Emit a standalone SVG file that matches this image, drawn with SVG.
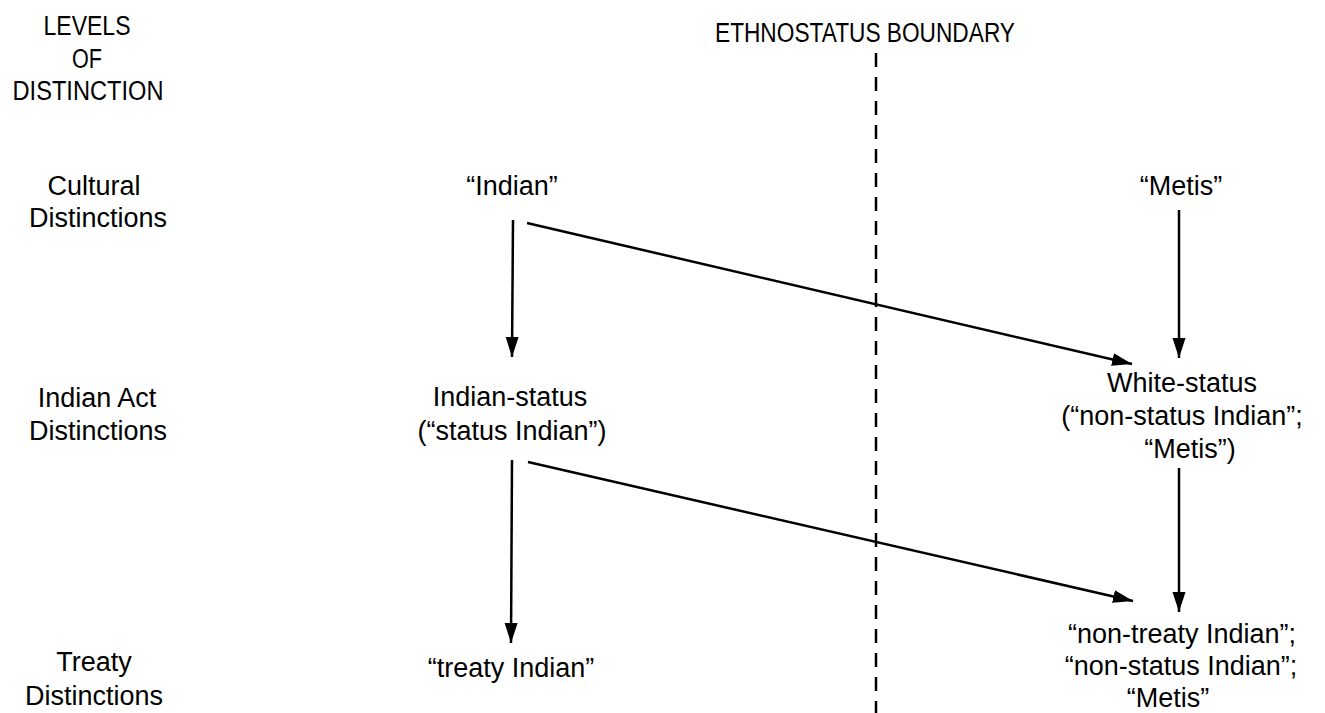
<svg xmlns="http://www.w3.org/2000/svg" width="1325" height="713" viewBox="0 0 1325 713">
<style>
text{font-family:"Liberation Sans",Arial,sans-serif;fill:#000;text-anchor:middle;font-size:27px}
.conn{stroke:#000;stroke-width:2.5;fill:none}
.bound{stroke:#000;stroke-width:2.5;stroke-dasharray:14 10;fill:none}
</style>
<defs>
<marker id="ah" markerUnits="userSpaceOnUse" markerWidth="22" markerHeight="14" refX="20" refY="6.5" orient="auto">
<path d="M0,0 L20,6.5 L0,13 Z" fill="#000"/>
</marker>
</defs>
<rect width="1325" height="713" fill="#fff"/>
<g id="levels-header">
<text x="87" y="35" textLength="87" lengthAdjust="spacingAndGlyphs">LEVELS</text>
<text x="87" y="68" textLength="30" lengthAdjust="spacingAndGlyphs">OF</text>
<text x="88" y="100" textLength="151" lengthAdjust="spacingAndGlyphs">DISTINCTION</text>
</g>
<g id="level-cultural">
<text x="94" y="195">Cultural</text>
<text x="98" y="227">Distinctions</text>
</g>
<g id="level-indian-act">
<text x="97" y="407">Indian Act</text>
<text x="98" y="440">Distinctions</text>
</g>
<g id="level-treaty">
<text x="94" y="671">Treaty</text>
<text x="94" y="705">Distinctions</text>
</g>
<g id="boundary">
<text x="865" y="42" font-size="23" textLength="300" lengthAdjust="spacingAndGlyphs">ETHNOSTATUS BOUNDARY</text>
<line class="bound" x1="876" y1="53" x2="876" y2="713"/>
</g>
<g id="node-indian">
<text x="512" y="195">“Indian”</text>
</g>
<g id="node-metis">
<text x="1181" y="195">“Metis”</text>
</g>
<g id="node-indian-status">
<text x="510" y="406">Indian-status</text>
<text x="512" y="440">(“status Indian”)</text>
</g>
<g id="node-white-status">
<text x="1182" y="392">White-status</text>
<text x="1182" y="425">(“non-status Indian”;</text>
<text x="1190" y="458">“Metis”)</text>
</g>
<g id="node-treaty-indian">
<text x="511" y="677">“treaty Indian”</text>
</g>
<g id="node-non-treaty">
<text x="1182" y="643">“non-treaty Indian”;</text>
<text x="1181" y="675">“non-status Indian”;</text>
<text x="1168" y="707">“Metis”</text>
</g>
<g id="connectors">
<line class="conn" x1="513" y1="220" x2="512" y2="357" marker-end="url(#ah)"/>
<line class="conn" x1="527" y1="223" x2="1132" y2="364" marker-end="url(#ah)"/>
<line class="conn" x1="1179" y1="210" x2="1179" y2="358" marker-end="url(#ah)"/>
<line class="conn" x1="512" y1="460" x2="511" y2="643" marker-end="url(#ah)"/>
<line class="conn" x1="528" y1="462" x2="1133" y2="601" marker-end="url(#ah)"/>
<line class="conn" x1="1179" y1="468" x2="1179" y2="612" marker-end="url(#ah)"/>
</g>
</svg>
